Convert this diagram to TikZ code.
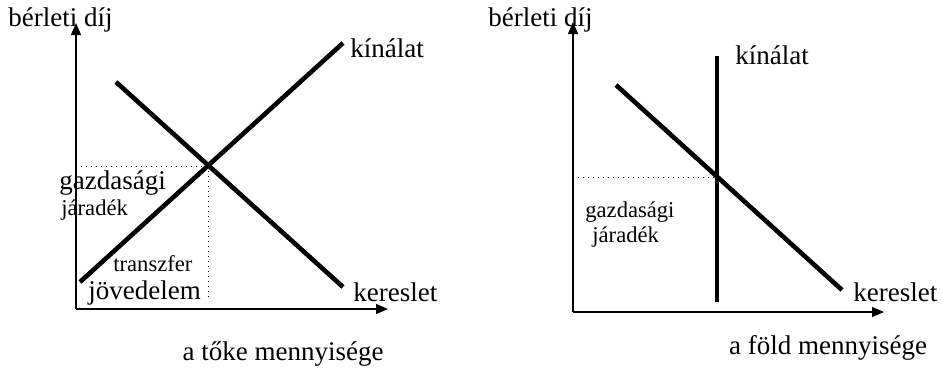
\documentclass[tikz,border=0pt]{standalone}
\usepackage{fontspec}
\setmainfont{Liberation Serif}
\usetikzlibrary{arrows.meta}

\tikzset{
  axis/.style={line width=0.6pt,-{Triangle[length=6pt,width=5pt]}},
  curve/.style={line width=2.3pt},
  guide/.style={line width=0.5pt,dotted},
  bigtext/.style={inner sep=0pt,font=\fontsize{13.5}{15}\selectfont},
  smalltext/.style={inner sep=0pt,font=\fontsize{11.3}{13}\selectfont}
}

\begin{document}
\begin{tikzpicture}[x=0.5pt,y=-0.5pt]
  \useasboundingbox (0,0) rectangle (942,371);

  % left: capital
  \coordinate (O1) at (76,309);
  \coordinate (Y1) at (76,23);
  \coordinate (X1) at (388,309);
  \draw[axis] (O1) -- (Y1);
  \draw[axis] (O1) -- (X1);
  \coordinate (S1a) at (80,282);   \coordinate (S1b) at (343,43);
  \coordinate (D1a) at (116,82);   \coordinate (D1b) at (343,287);
  \coordinate (E1) at (208,166);
  \coordinate (E1y) at (76,166);   \coordinate (E1x) at (208,298);
  \draw[curve] (S1a) -- (S1b);
  \draw[curve] (D1a) -- (D1b);
  \draw[guide] (E1y) -- (E1);
  \draw[guide] (E1) -- (E1x);

  \node[bigtext,anchor=west] (rent1) at (8,20) {bérleti díj};
  \node[bigtext,anchor=west] (sup1) at (350,48) {kínálat};
  \node[bigtext,anchor=west] (dem1) at (353,292) {kereslet};
  \node[bigtext,anchor=west] (gaz1) at (59,183) {gazdasági};
  \node[smalltext,anchor=west] (jar1) at (61,210) {járadék};
  \node[smalltext,anchor=west] (tra1) at (113,264) {transzfer};
  \node[bigtext,anchor=west] (jov1) at (88,293) {jövedelem};
  \node[bigtext] (q1) at (283,354) {a tőke mennyisége};

  % right: land
  \coordinate (O2) at (573,312);
  \coordinate (Y2) at (573,22);
  \coordinate (X2) at (884,312);
  \draw[axis] (O2) -- (Y2);
  \draw[axis] (O2) -- (X2);
  \coordinate (S2a) at (717,302);  \coordinate (S2b) at (717,56);
  \coordinate (D2a) at (616,85);   \coordinate (D2b) at (842,290);
  \coordinate (E2) at (717,177);
  \coordinate (E2y) at (573,177);
  \draw[curve] (S2a) -- (S2b);
  \draw[curve] (D2a) -- (D2b);
  \draw[guide] (E2y) -- (E2);

  \node[bigtext,anchor=west] (rent2) at (488,20) {bérleti díj};
  \node[bigtext,anchor=west] (sup2) at (735,55) {kínálat};
  \node[bigtext,anchor=west] (dem2) at (853,292) {kereslet};
  \node[smalltext,anchor=west] (gaz2) at (585,212) {gazdasági};
  \node[smalltext,anchor=west] (jar2) at (592,237) {járadék};
  \node[bigtext] (q2) at (828,348) {a föld mennyisége};
\end{tikzpicture}
\end{document}
